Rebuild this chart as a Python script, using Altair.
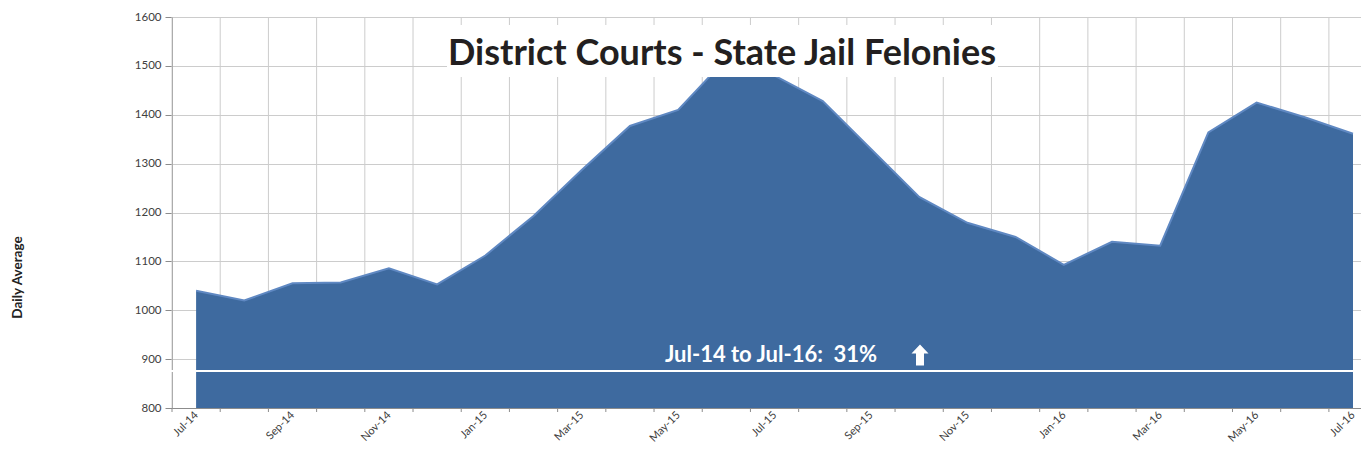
import altair as alt
import pandas as pd

months = ["Jul-14", "Aug-14", "Sep-14", "Oct-14", "Nov-14", "Dec-14",
          "Jan-15", "Feb-15", "Mar-15", "Apr-15", "May-15", "Jun-15",
          "Jul-15", "Aug-15", "Sep-15", "Oct-15", "Nov-15", "Dec-15",
          "Jan-16", "Feb-16", "Mar-16", "Apr-16", "May-16", "Jun-16", "Jul-16"]
values = [1040, 1020, 1055, 1057, 1086, 1053,
          1112, 1193, 1287, 1377, 1410, 1515,
          1480, 1428, 1330, 1232, 1179, 1150,
          1093, 1140, 1132, 1364, 1425, 1395, 1361]
y_ticks = [800, 900, 1000, 1100, 1200, 1300, 1400, 1500, 1600]
label_idx = list(range(0, len(months), 2))
title_text = "District Courts - State Jail Felonies"
note_text = "Jul-14 to Jul-16:\u00a0 31%"
y_title = "Daily Average"

W, H = 1189, 391
FONT = "Lato"
FILL = "#3e6a9f"

df = pd.DataFrame({"i": list(range(len(months))), "month": months, "value": values})
grid_df = pd.DataFrame({"g": [i - 0.5 for i in range(len(months))]})

label_expr = "[" + ",".join(f"'{m}'" for m in months) + "][datum.value]"

xscale = alt.Scale(domain=[-0.5, 24.166], nice=False, zero=False)
yscale = alt.Scale(domain=[800, 1600], nice=False, zero=False)

x_axis = alt.Axis(values=label_idx, labelExpr=label_expr, grid=False, ticks=False,
                  domain=True, domainColor="#8c8c8c", labelAngle=-45,
                  labelAlign="right", labelBaseline="middle", labelPadding=5,
                  labelOffset=0, labelFont=FONT, labelFontSize=11,
                  labelColor="#404040", title=None, labelOverlap=False)
y_axis = alt.Axis(values=y_ticks, format="d", grid=True, gridColor="#cccccc", gridWidth=1,
                  domainColor="#8c8c8c", tickColor="#8c8c8c", tickSize=7,
                  labelPadding=4, labelFont=FONT, labelFontSize=11.5,
                  labelColor="#404040", title=y_title, titleFont=FONT,
                  titleFontSize=13.5, titleFontWeight="bold", titleColor="#222222",
                  titleAngle=-90, titleX=-155, titleY=260, titleAlign="center",
                  titleBaseline="middle")

vgrid = alt.Chart(grid_df).mark_rule(color="#cccccc", strokeWidth=1).encode(
    x=alt.X("g:Q", scale=xscale, axis=x_axis),
    y=alt.value(0), y2=alt.value(H))

xticks = alt.Chart(grid_df).mark_rule(color="#8c8c8c", strokeWidth=1).encode(
    x=alt.X("g:Q", scale=xscale), y=alt.value(H), y2=alt.value(H + 4))

area = alt.Chart(df).mark_area(color=FILL, opacity=1).encode(
    x=alt.X("i:Q", scale=xscale),
    y=alt.Y("value:Q", scale=yscale, axis=y_axis),
    y2=alt.datum(800))

edge = alt.Chart(df).mark_line(color="#5f88c2", strokeWidth=2).encode(
    x=alt.X("i:Q", scale=xscale), y=alt.Y("value:Q", scale=yscale))

white_line = alt.Chart(pd.DataFrame({"k": [0]})).mark_rule(color="white", strokeWidth=2).encode(
    x=alt.value(-1), x2=alt.value(W), y=alt.value(354))

title_box = alt.Chart(pd.DataFrame({"k": [0]})).mark_rect(color="white").encode(
    x=alt.value(275), x2=alt.value(826), y=alt.value(8), y2=alt.value(60))

title = alt.Chart(pd.DataFrame({"t": [title_text]})).mark_text(
    font=FONT, fontSize=36, fontWeight="bold", color="#231f20",
    align="center", baseline="alphabetic").encode(
    x=alt.value(550), y=alt.value(48), text="t:N")

note = alt.Chart(pd.DataFrame({"t": [note_text]})).mark_text(
    font=FONT, fontSize=22, fontWeight="bold", color="white",
    align="center", baseline="alphabetic").encode(
    x=alt.value(599), y=alt.value(345), text="t:N")

arrow_path = "M0,-1.24L1,-0.18L0.47,-0.18L0.47,1.24L-0.47,1.24L-0.47,-0.18L-1,-0.18Z"
arrow = alt.Chart(pd.DataFrame({"k": [0]})).mark_point(
    shape=arrow_path, filled=True, fill="white", opacity=1, size=289, strokeWidth=0).encode(
    x=alt.value(748), y=alt.value(338))

chart = alt.layer(vgrid, xticks, area, edge, white_line, title_box, title, note, arrow).properties(
    width=W, height=H,
    autosize=alt.AutoSizeParams(type="none"),
    padding={"left": 164, "top": 9, "right": 0, "bottom": 36},
).configure_view(stroke=None).configure(background="white")

chart.save("out.html", embed_options={"renderer": "svg", "actions": False})
